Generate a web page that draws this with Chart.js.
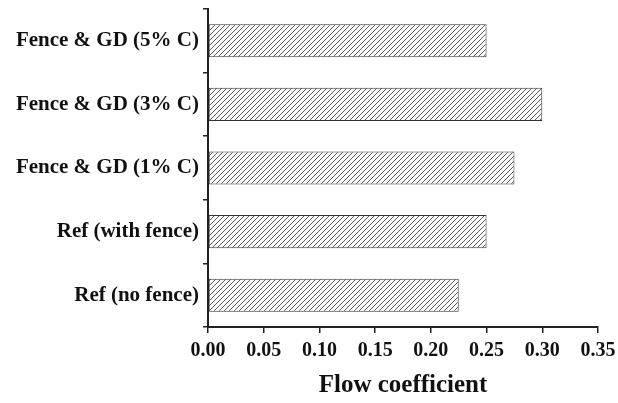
<!DOCTYPE html>
<html>
<head>
<meta charset="utf-8">
<script src="https://cdn.jsdelivr.net/npm/chart.js@4"></script>
<style>
  html, body { margin: 0; padding: 0; background: #fff; }
  #wrap { width: 618px; height: 403px; }
</style>
</head>
<body>
<div id="wrap"><canvas id="grafico"></canvas></div>
<script>
// data, top to bottom
const categories = ['Fence & GD (5% C)', 'Fence & GD (3% C)', 'Fence & GD (1% C)', 'Ref (with fence)', 'Ref (no fence)'];
const flowCoefficient = [0.25, 0.30, 0.275, 0.25, 0.225];
const xTicks = [0, 0.05, 0.10, 0.15, 0.20, 0.25, 0.30, 0.35];

function hatch() {
    const s = 5;
    const c = document.createElement('canvas');
    c.width = s; c.height = s;
    const g = c.getContext('2d');
    g.fillStyle = '#fff';
    g.fillRect(0, 0, s, s);
    g.strokeStyle = '#5a5a5a';
    g.lineWidth = 1;
    g.beginPath();
    g.moveTo(-1, s + 1); g.lineTo(s + 1, -1);
    g.moveTo(-1, 1); g.lineTo(1, -1);
    g.moveTo(s - 1, s + 1); g.lineTo(s + 1, s - 1);
    g.stroke();
    return g.createPattern(c, 'repeat');
}

const font = "'Liberation Serif', 'Times New Roman', serif";
const ctx = document.getElementById('grafico');
new Chart(ctx, {
    type: 'bar',
    data: {
        labels: categories,
        datasets: [{
            data: flowCoefficient,
            backgroundColor: hatch(),
            borderColor: '#333',
            borderWidth: 1,
            borderSkipped: false,
            barPercentage: 0.52,
            categoryPercentage: 1
        }]
    },
    options: {
        indexAxis: 'y',
        responsive: true,
        maintainAspectRatio: false,
        animation: false,
        layout: { padding: { left: 0, right: 20, top: 9, bottom: 0 } },
        plugins: { legend: { display: false }, tooltip: { enabled: false } },
        scales: {
            x: {
                min: 0,
                max: 0.35,
                afterBuildTicks: axis => { axis.ticks = xTicks.map(v => ({ value: v })); },
                afterFit: axis => { axis.height = 76; axis.paddingLeft = 0; axis.paddingRight = 0; },
                border: { color: '#222', width: 2 },
                grid: { drawOnChartArea: false, drawTicks: true, tickLength: 6, color: '#222', lineWidth: 1.5 },
                ticks: {
                    color: '#111',
                    padding: 6,
                    maxRotation: 0,
                    font: { family: font, size: 20, weight: 'bold' },
                    callback: v => Number(v).toFixed(2)
                },
                title: {
                    display: true,
                    text: 'Flow coefficient',
                    color: '#111',
                    padding: { top: 0, bottom: 2 },
                    font: { family: font, size: 25, weight: 'bold' }
                }
            },
            y: {
                afterFit: axis => { axis.width = 208; axis.paddingTop = 0; axis.paddingBottom = 0; },
                border: { color: '#222', width: 2 },
                grid: { offset: true, drawOnChartArea: false, drawTicks: true, tickLength: 5, color: '#222', lineWidth: 1.5 },
                ticks: {
                    color: '#111',
                    padding: 4,
                    font: { family: font, size: 21, weight: 'bold' }
                }
            }
        }
    }
});
</script>
</body>
</html>
